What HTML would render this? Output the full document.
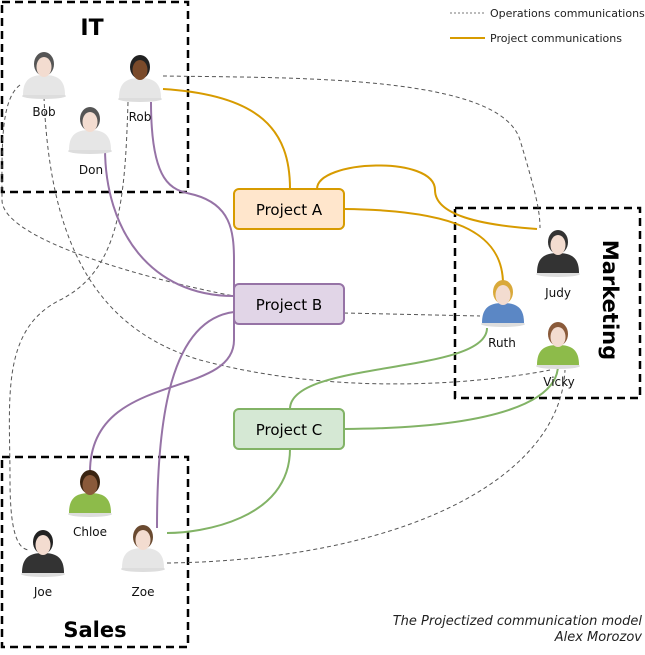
<!DOCTYPE html>
<html><head><meta charset="utf-8"><style>
body{margin:0;background:#fff}
text{font-family:"DejaVu Sans","Liberation Sans",sans-serif}
</style></head><body>
<svg width="645" height="650" viewBox="0 0 645 650" xmlns="http://www.w3.org/2000/svg">
<defs>
<g id="p">
<ellipse cx="0" cy="24" rx="22" ry="3" fill="#ddd"/>
<path d="M-21,23 C-21,8 -14,3 0,3 C14,3 21,8 21,23 Z" fill="var(--b)"/>
<ellipse cx="0" cy="-8" rx="10" ry="12" fill="var(--h)"/>
<ellipse cx="0" cy="-5" rx="7.5" ry="10" fill="var(--f)"/>
</g>
</defs>
<g fill="none" stroke="#000" stroke-width="2.5" stroke-dasharray="8,5">
<rect x="2" y="2" width="186" height="190"/>
<rect x="2" y="457" width="186" height="190"/>
<rect x="455" y="208" width="185" height="190"/>
</g>
<text x="92" y="35" font-size="22" font-weight="bold" text-anchor="middle">IT</text>
<text x="95" y="637" font-size="21" font-weight="bold" text-anchor="middle">Sales</text>
<text transform="translate(603,300) rotate(90)" font-size="21" font-weight="bold" text-anchor="middle">Marketing</text>
<line x1="450" y1="13" x2="485" y2="13" stroke="#777" stroke-dasharray="2,2"/>
<text x="490" y="17" font-size="11" fill="#222">Operations communications</text>
<line x1="450" y1="38" x2="485" y2="38" stroke="#d79b00" stroke-width="2"/>
<text x="490" y="42" font-size="11" fill="#222">Project communications</text>
<g fill="none" stroke="#555" stroke-width="1" stroke-dasharray="4,3">
<path d="M163,76 C300,78 500,75 520,140 C535,190 540,210 540,228"/>
<path d="M20,85 C0,100 2,150 2,200 C2,240 150,280 234,296"/>
<path d="M44,97 C50,250 100,330 200,360 C350,400 500,380 550,370"/>
<path d="M128,102 C125,200 120,270 60,300 C0,330 10,400 10,480 C10,540 20,550 30,550"/>
<path d="M344,313 L480,316"/>
<path d="M167,563 C400,560 560,480 565,370"/>
</g>
<g fill="none" stroke="#d79b00" stroke-width="2">
<path d="M163,89 C260,95 290,130 290,189"/>
<path d="M317,189 C317,160 435,155 435,190 C435,215 480,225 537,229"/>
<path d="M344,209 C450,210 503,230 503,284"/>
</g>
<g fill="none" stroke="#9673a6" stroke-width="2">
<path d="M151,102 C151,190 175,190 195,195 C230,205 234,230 234,260 L234,340 C234,400 90,370 90,472"/>
<path d="M105,148 C105,230 150,296 234,296"/>
<path d="M234,312 C170,320 157,420 157,528"/>
</g>
<g fill="none" stroke="#82b366" stroke-width="2">
<path d="M487,328 C487,375 290,360 290,409"/>
<path d="M344,429 C500,428 558,400 558,365"/>
<path d="M290,449 C290,520 200,533 167,533"/>
</g>
<g font-size="15" text-anchor="middle">
<rect x="234" y="189" width="110" height="40" rx="5" fill="#ffe6cc" stroke="#d79b00" stroke-width="2"/>
<text x="289" y="215">Project A</text>
<rect x="234" y="284" width="110" height="40" rx="5" fill="#e1d5e7" stroke="#9673a6" stroke-width="2"/>
<text x="289" y="310">Project B</text>
<rect x="234" y="409" width="110" height="40" rx="5" fill="#d5e8d4" stroke="#82b366" stroke-width="2"/>
<text x="289" y="435">Project C</text>
</g>
<use href="#p" x="44" y="72" style="--b:#e6e6e6;--h:#555;--f:#f3dcd0"/>
<use href="#p" x="140" y="75" style="--b:#e6e6e6;--h:#222;--f:#7a4a2a"/>
<use href="#p" x="90" y="127" style="--b:#e6e6e6;--h:#555;--f:#f3dcd0"/>
<use href="#p" x="558" y="250" style="--b:#333;--h:#333;--f:#f3dcd0"/>
<use href="#p" x="503" y="300" style="--b:#5b87c5;--h:#d9a93a;--f:#f3dcd0"/>
<use href="#p" x="558" y="342" style="--b:#8dbb4a;--h:#8a5a3a;--f:#f3dcd0"/>
<use href="#p" x="90" y="490" style="--b:#8dbb4a;--h:#3a2410;--f:#8a5a3a"/>
<use href="#p" x="43" y="550" style="--b:#333;--h:#222;--f:#f3dcd0"/>
<use href="#p" x="143" y="545" style="--b:#e6e6e6;--h:#6a4a30;--f:#f3dcd0"/>
<g font-size="12" text-anchor="middle" fill="#111">
<text x="44" y="116">Bob</text>
<text x="140" y="121">Rob</text>
<text x="91" y="174">Don</text>
<text x="558" y="297">Judy</text>
<text x="502" y="347">Ruth</text>
<text x="559" y="386">Vicky</text>
<text x="90" y="536">Chloe</text>
<text x="43" y="596">Joe</text>
<text x="143" y="596">Zoe</text>
</g>
<g font-size="13" font-style="italic" text-anchor="end" fill="#222">
<text x="642" y="625">The Projectized communication model</text>
<text x="642" y="641">Alex Morozov</text>
</g>
</svg>
</body></html>
